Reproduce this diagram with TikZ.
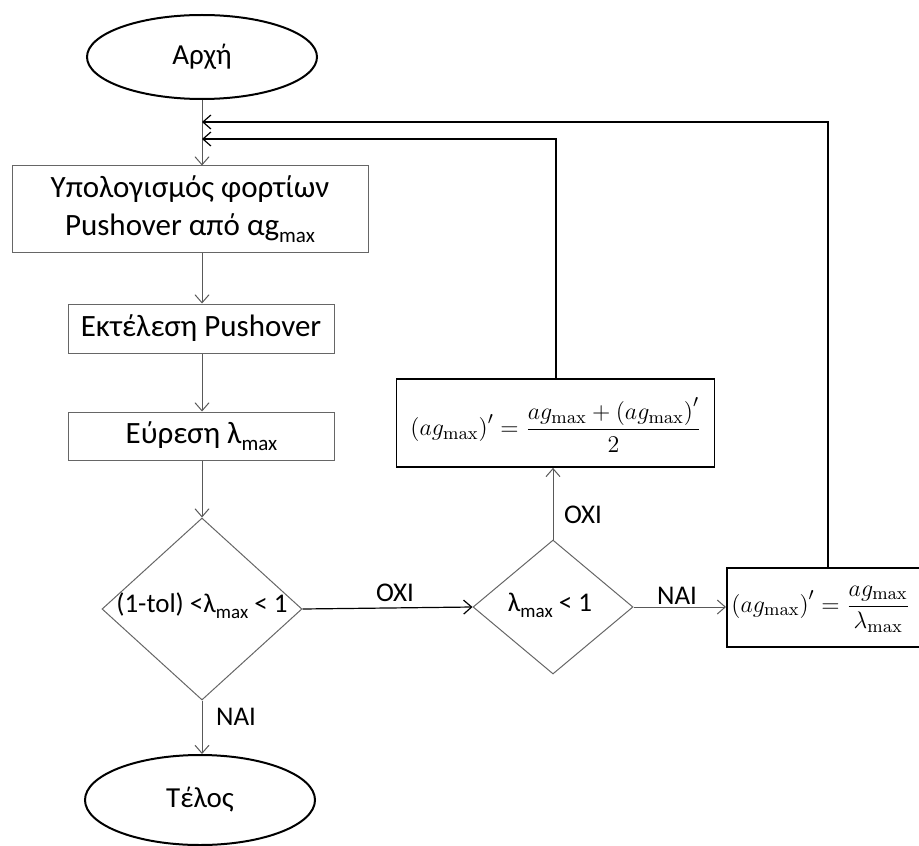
\documentclass[tikz,border=0pt]{standalone}
\usepackage[no-math]{fontspec}
\setmainfont{Carlito}
\usetikzlibrary{shapes.geometric,arrows.meta}
\newcommand\fs{\fontsize{15.5}{19}\selectfont}
\newcommand\efs{\fontsize{14.5}{16}\selectfont}
\newcommand\dfs{\fontsize{13.5}{16}\selectfont}
\newcommand\lfs{\fontsize{13.5}{15}\selectfont}
\newcommand\lo[1]{\raisebox{-0.45ex}{\fontsize{10.5}{11}\selectfont #1}}
\newcommand\dlo[1]{\raisebox{-0.45ex}{\fontsize{9.5}{10}\selectfont #1}}
\begin{document}
\begin{tikzpicture}[x=0.5pt,y=-0.5pt,
  box/.style={draw=gray!80!black, line width=0.5pt, rectangle, inner sep=0pt, align=center, font=\fs},
  term/.style={draw=black, line width=1pt, ellipse, inner sep=0pt, font=\efs},
  dec/.style={draw=gray!80!black, line width=0.5pt, diamond, inner sep=0pt},
  fbox/.style={draw=black, line width=0.9pt, rectangle, inner sep=0pt},
  arr/.style={draw=gray!70!black, line width=0.5pt, -{Straight Barb[length=4pt,width=7pt]}},
  ret/.style={draw=black, line width=0.6pt, -{Straight Barb[length=4pt,width=7pt]}},
  txt/.style={inner sep=0pt, font=\dfs},
  lab/.style={inner sep=0pt, font=\lfs}]
\clip (0,0) rectangle (919,845);
% nodes
\node[term, minimum width=115pt, minimum height=42pt] (start) at (202,57) {Αρχή};
\node[box, minimum width=178pt, minimum height=43pt] (b1) at (190,209) {Υπολογισμός φορτίων\\Pushover από αg\lo{max}};
\node[box, minimum width=133pt, minimum height=24.5pt] (b2) at (201,328.5) {Εκτέλεση Pushover};
\node[box, minimum width=133pt, minimum height=24pt] (b3) at (201.5,436) {Εύρεση λ\lo{max}};
\node[dec, minimum width=100pt, minimum height=91pt] (d1) at (202,609) {};
\node[txt] (d1t) at (202,606) {(1-tol) <λ\dlo{max} < 1};
\node[dec, minimum width=80pt, minimum height=67pt] (d2) at (553,607) {};
\node[txt] (d2t) at (550,605) {λ\dlo{max} < 1};
\node[fbox, minimum width=159pt, minimum height=44pt] (f1) at (555.5,423) {};
\node[inner sep=0pt, font=\fontsize{13}{15}\selectfont] (f1t) at (556,425) {$\displaystyle \left(ag_{\mathrm{max}}\right)^{\prime} = \frac{ag_{\mathrm{max}}+\left(ag_{\mathrm{max}}\right)^{\prime}}{2}$};
\node[fbox, anchor=west, minimum width=150pt, minimum height=39.5pt] (f2) at (726,607.5) {};
\node[inner sep=0pt, font=\fontsize{12.5}{14}\selectfont, anchor=west] (f2t) at (731,609) {$\displaystyle \left(ag_{\mathrm{max}}\right)^{\prime} = \frac{ag_{\mathrm{max}}}{\lambda_{\mathrm{max}}}$};
\node[term, minimum width=115pt, minimum height=45pt] (end) at (200,800) {Τέλος};
% labels
\node[lab] (l1) at (395,593) {ΟΧΙ};
\node[lab] (l2) at (236,717) {ΝΑΙ};
\node[lab] (l3) at (583,515) {ΟΧΙ};
\node[lab] (l4) at (677,596) {ΝΑΙ};
% coordinates of return lines
\coordinate (r1) at (828,122);
\coordinate (r2) at (556,139);
% connectors
\draw[arr] (start.south) -- (start.south |- b1.north);
\draw[arr] (start.south |- b1.south) -- (start.south |- b2.north);
\draw[arr] (start.south |- b2.south) -- (start.south |- b3.north);
\draw[arr] (start.south |- b3.south) -- (d1.north);
\draw[arr] (d1.south) -- (d1.south |- end.north);
\draw[draw=black, line width=0.6pt, -{Straight Barb[length=4pt,width=7pt]}] (d1.east) -- (d2.west);
\draw[arr] (d2.north) -- (d2.north |- f1.south);
\draw[arr] (d2.east) -- (d2.east -| f2.west);
\draw[ret] (r1 |- f2.north) -- (r1) -- (r1 -| start.south);
\draw[ret] (r2 |- f1.north) -- (r2) -- (r2 -| start.south);
\end{tikzpicture}
\end{document}
